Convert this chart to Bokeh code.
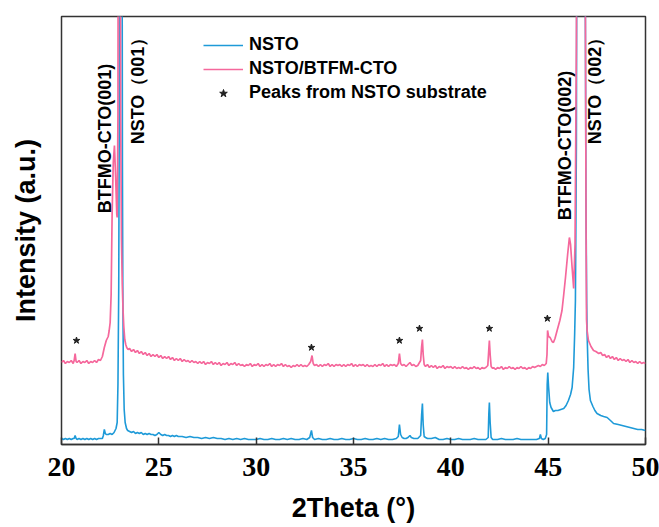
import math
from bokeh.plotting import figure
from bokeh.models import Range1d, FixedTicker, Legend, LegendItem
from bokeh.core.properties import value
from bokeh.embed import file_html
from bokeh.resources import INLINE

# ---------------- data (arbitrary units) ----------------
x_ticks = [20, 25, 30, 35, 40, 45, 50]

film_x = [20.0, 20.1, 20.2, 20.3, 20.4, 20.5, 20.6, 20.65, 20.7, 20.75, 20.8, 20.9, 21.0, 21.1, 21.2, 21.3,
          21.4, 21.5, 21.6, 21.7, 21.8, 21.9, 22.0, 22.1, 22.2, 22.3, 22.4, 22.45, 22.5, 22.55, 22.6, 22.66,
          22.72, 22.78, 22.84, 22.86, 22.9, 22.93, 22.96, 23.0, 23.04, 23.08, 23.12, 23.16, 23.2, 23.25,
          23.3, 23.35, 23.42, 23.5, 23.6, 23.7, 23.8, 23.9, 24.0, 24.1, 24.2, 24.3, 24.4, 24.5, 24.6, 24.7,
          24.8, 24.9, 25.0, 25.1, 25.2, 25.3, 25.4, 25.5, 25.6, 25.7, 25.8, 25.9, 26.0, 26.1, 26.2, 26.3,
          26.4, 26.5, 26.6, 26.7, 26.8, 26.9, 27.0, 27.1, 27.2, 27.3, 27.4, 27.5, 27.6, 27.7, 27.8, 27.9,
          28.0, 28.1, 28.2, 28.3, 28.4, 28.5, 28.6, 28.7, 28.8, 28.9, 29.0, 29.1, 29.2, 29.3, 29.4, 29.5,
          29.6, 29.7, 29.8, 29.9, 30.0, 30.1, 30.2, 30.3, 30.4, 30.5, 30.6, 30.7, 30.8, 30.9, 31.0, 31.1,
          31.2, 31.3, 31.4, 31.5, 31.6, 31.7, 31.8, 31.9, 32.0, 32.1, 32.2, 32.3, 32.4, 32.5, 32.6, 32.7,
          32.8, 32.87, 32.93, 33.0, 33.1, 33.2, 33.3, 33.4, 33.5, 33.6, 33.7, 33.8, 33.9, 34.0, 34.1, 34.2,
          34.3, 34.4, 34.5, 34.6, 34.7, 34.8, 34.9, 35.0, 35.1, 35.2, 35.3, 35.4, 35.5, 35.6, 35.7, 35.8,
          35.9, 36.0, 36.1, 36.2, 36.3, 36.4, 36.5, 36.6, 36.7, 36.8, 36.9, 37.0, 37.1, 37.2, 37.3, 37.36,
          37.42, 37.5, 37.6, 37.7, 37.8, 37.9, 38.0, 38.1, 38.2, 38.3, 38.45, 38.5, 38.54, 38.58, 38.63,
          38.7, 38.8, 38.9, 39.0, 39.1, 39.2, 39.3, 39.4, 39.5, 39.6, 39.7, 39.8, 39.9, 40.0, 40.1, 40.2,
          40.3, 40.4, 40.5, 40.6, 40.7, 40.8, 40.9, 41.0, 41.1, 41.2, 41.3, 41.4, 41.5, 41.6, 41.7, 41.8,
          41.9, 41.95, 41.98, 42.02, 42.07, 42.15, 42.2, 42.3, 42.4, 42.5, 42.6, 42.7, 42.8, 42.9, 43.0,
          43.1, 43.2, 43.3, 43.4, 43.5, 43.6, 43.7, 43.8, 43.9, 44.0, 44.1, 44.2, 44.3, 44.4, 44.5, 44.6,
          44.7, 44.8, 44.9, 44.94, 44.97, 45.02, 45.1, 45.2, 45.27, 45.35, 45.46, 45.6, 45.71, 45.8, 45.89,
          46.0, 46.09, 46.15, 46.23, 46.31, 46.38, 46.45, 46.55, 46.7, 46.85, 46.91, 46.95, 46.97, 47.0,
          47.07, 47.2, 47.33, 47.45, 47.6, 47.7, 47.8, 47.9, 48.0, 48.1, 48.2, 48.3, 48.4, 48.5, 48.6, 48.7,
          48.8, 48.9, 49.0, 49.1, 49.2, 49.3, 49.4, 49.5, 49.6, 49.7, 49.8, 49.9, 50.0]
film_y = [82, 84, 81, 83, 82, 84, 81, 84, 91, 83, 82, 84, 81, 83, 82, 84,
          81, 83, 82, 84, 82, 85, 84, 88, 97, 104, 108, 114, 122, 150, 230, 282,
          299, 268, 230, 227, 330, 800, 1400, 700, 330, 205, 161, 135, 118, 105,
          100, 97, 95, 96, 93, 95, 92, 94, 91, 93, 90, 92, 89, 91, 88, 90,
          88, 90, 87, 89, 86, 88, 86, 88, 85, 87, 84, 86, 84, 86, 83, 85,
          83, 84, 82, 84, 82, 83, 81, 83, 81, 83, 80, 82, 81, 83, 80, 82,
          80, 82, 79, 81, 80, 82, 79, 81, 80, 82, 79, 81, 79, 80, 78, 80,
          79, 81, 78, 80, 79, 81, 78, 80, 78, 80, 79, 81, 78, 80, 78, 80,
          79, 81, 78, 80, 78, 79, 77, 79, 78, 80, 78, 80, 78, 79, 78, 80,
          83, 89, 81, 79, 80, 78, 80, 78, 80, 79, 81, 78, 80, 78, 80, 79,
          80, 78, 80, 78, 80, 79, 81, 78, 80, 78, 80, 79, 80, 78, 80, 78,
          79, 78, 80, 78, 80, 79, 81, 78, 80, 78, 80, 79, 80, 78, 81, 91,
          81, 79, 80, 78, 80, 82, 79, 80, 78, 79, 84, 98, 105, 90, 80,
          78, 80, 77, 79, 77, 79, 76, 78, 77, 79, 76, 78, 77, 78, 76, 78,
          76, 77, 76, 78, 76, 77, 75, 77, 76, 78, 76, 77, 75, 77, 76, 77,
          79, 95, 104, 90, 78, 76, 77, 75, 77, 76, 78, 75, 77, 76, 78,
          76, 77, 75, 77, 76, 78, 76, 77, 75, 77, 76, 78, 77, 78, 79, 78,
          80, 79, 81, 90, 114, 108, 107, 103, 102, 106, 114, 124, 134, 150, 167,
          190, 207, 200, 177, 156, 200, 400, 1000, 1500, 900, 450, 200, 125, 114,
          104, 98, 94, 93, 91, 92, 89, 90, 87, 89, 86, 88, 85, 87, 84, 86,
          84, 85, 83, 85, 82, 84, 82, 83, 81, 83, 81, 82, 81]

nsto_x = [20.0, 20.1, 20.2, 20.3, 20.4, 20.5, 20.6, 20.65, 20.7, 20.75, 20.8, 20.9, 21.0, 21.1, 21.2, 21.3,
          21.4, 21.5, 21.6, 21.7, 21.8, 21.9, 22.0, 22.1, 22.15, 22.2, 22.25, 22.3, 22.4, 22.5, 22.6, 22.7,
          22.8, 22.86, 22.9, 22.94, 22.98, 23.02, 23.06, 23.1, 23.13, 23.15, 23.18, 23.22, 23.27, 23.34,
          23.4, 23.5, 23.6, 23.7, 23.8, 23.9, 24.0, 24.1, 24.2, 24.3, 24.4, 24.5, 24.6, 24.7, 24.8, 24.9,
          25.0, 25.05, 25.1, 25.2, 25.3, 25.4, 25.5, 25.6, 25.7, 25.8, 25.9, 26.0, 26.2, 26.4, 26.6, 26.8,
          27.0, 27.2, 27.4, 27.6, 27.8, 28.0, 28.2, 28.4, 28.6, 28.8, 29.0, 29.2, 29.4, 29.6, 29.8, 30.0,
          30.2, 30.4, 30.6, 30.8, 31.0, 31.2, 31.4, 31.6, 31.8, 32.0, 32.2, 32.4, 32.6, 32.75, 32.84, 32.9,
          33.0, 33.2, 33.4, 33.6, 33.8, 34.0, 34.2, 34.4, 34.6, 34.8, 35.0, 35.2, 35.4, 35.6, 35.8, 36.0,
          36.2, 36.4, 36.6, 36.8, 37.0, 37.2, 37.3, 37.36, 37.42, 37.5, 37.6, 37.7, 37.8, 37.9, 37.97, 38.1,
          38.3, 38.45, 38.5, 38.54, 38.58, 38.63, 38.7, 38.8, 39.0, 39.2, 39.4, 39.6, 39.8, 40.0, 40.2, 40.4,
          40.6, 40.8, 41.0, 41.2, 41.4, 41.6, 41.8, 41.92, 41.95, 41.98, 42.02, 42.07, 42.15, 42.4, 42.6,
          42.8, 43.0, 43.2, 43.4, 43.6, 43.8, 44.0, 44.2, 44.4, 44.55, 44.6, 44.65, 44.75, 44.85, 44.92,
          44.95, 44.98, 45.02, 45.08, 45.15, 45.27, 45.37, 45.5, 45.65, 45.8, 45.92, 46.04, 46.15, 46.23,
          46.31, 46.36, 46.4, 46.45, 46.5, 46.7, 46.85, 46.9, 46.94, 46.98, 47.0, 47.05, 47.1, 47.17, 47.3,
          47.4, 47.51, 47.7, 47.85, 48.03, 48.2, 48.36, 48.6, 48.8, 49.0, 49.2, 49.4, 49.6, 49.8, 50.0]
nsto_y = [6, 5, 6, 5, 6, 5, 6, 6, 9, 6, 5, 6, 5, 6, 5, 6,
          5, 6, 5, 6, 5, 6, 6, 6, 9, 15, 11, 10, 10, 11, 10, 12,
          16, 22, 60, 157, 400, 900, 1500, 700, 280, 157, 70, 35, 22, 16,
          14, 13, 12, 13, 11, 12, 11, 12, 10, 11, 10, 11, 10, 10, 9, 10,
          12, 11, 10, 9, 10, 9, 9, 8, 9, 8, 9, 8, 8, 7, 8, 7,
          7, 6, 7, 6, 7, 6, 6, 5, 6, 5, 6, 5, 6, 5, 5, 5,
          6, 5, 5, 6, 5, 5, 6, 5, 6, 5, 5, 6, 5, 7, 14, 7,
          5, 6, 5, 5, 6, 5, 5, 6, 5, 5, 6, 5, 5, 6, 5, 5,
          6, 5, 6, 5, 5, 6, 8, 20, 10, 7, 6, 6, 7, 9, 7, 6,
          6, 9, 30, 41, 20, 8, 7, 6, 6, 7, 5, 5, 6, 5, 5, 6,
          5, 5, 5, 6, 5, 5, 5, 7, 30, 42, 22, 7, 5, 5, 6,
          5, 5, 5, 6, 5, 5, 5, 5, 5, 6, 10, 6, 5, 6, 10,
          60, 72, 58, 42, 37, 33, 34, 34, 35, 36, 39, 44, 50, 57,
          77, 110, 144, 300, 800, 1500, 900, 500, 250, 140, 111, 75, 55, 44, 38,
          34, 31, 29, 28, 27, 24, 21, 20, 19, 18, 17, 16, 15, 15, 14]

star_x = [20.77, 32.84, 37.36, 38.39, 41.98, 44.96]
star_y = [104, 97, 104, 116, 116, 126]

peak_labels = ["BTFMO-CTO(001)", "NSTO\uff08001\uff09", "BTFMO-CTO(002)", "NSTO\uff08002\uff09"]
peak_label_x = [22.26, 23.92, 45.89, 47.43]
peak_label_y = [306, 358, 299, 358]

series_names = ["NSTO", "NSTO/BTFM-CTO", "Peaks from NSTO substrate"]
x_title = "2Theta (\u00b0)"
y_title = "Intensity (a.u.)"

# ---------------- figure ----------------
BLUE = "#1e9ad8"
PINK = "#f5689c"
SANS = "Liberation Sans"

p = figure(width=659, height=527, output_backend="svg", toolbar_location=None,
           x_range=Range1d(20, 50), y_range=Range1d(0, 428),
           min_border_left=61, min_border_right=14, min_border_top=16, min_border_bottom=83)
p.background_fill_color = "white"
p.border_fill_color = "white"
p.outline_line_color = "#333333"
p.outline_line_width = 1.5
p.xgrid.visible = False
p.ygrid.visible = False

xa = p.xaxis[0]
xa.ticker = FixedTicker(ticks=x_ticks)
xa.major_tick_in = 7
xa.major_tick_out = 0
xa.minor_tick_in = 0
xa.minor_tick_out = 0
xa.major_tick_line_color = "#333333"
xa.major_tick_line_width = 1.5
xa.axis_line_color = "#333333"
xa.axis_line_width = 1.5
xa.major_label_text_font = "Liberation Serif"
xa.major_label_text_font_style = "bold"
xa.major_label_text_font_size = "28px"
xa.major_label_text_color = "black"
xa.major_label_text_line_height = 0.8
xa.major_label_standoff = 13
xa.axis_label = x_title
xa.axis_label_text_font = SANS
xa.axis_label_text_font_style = "bold"
xa.axis_label_text_font_size = "27px"
xa.axis_label_text_color = "black"
xa.axis_label_text_line_height = 0.8
xa.axis_label_standoff = 14

ya = p.yaxis[0]
ya.ticker = FixedTicker(ticks=[])
ya.axis_line_color = None
ya.major_tick_line_color = None
ya.minor_tick_line_color = None
ya.major_label_text_font_size = "0px"
ya.axis_label = y_title
ya.axis_label_text_font = SANS
ya.axis_label_text_font_style = "bold"
ya.axis_label_text_font_size = "27px"
ya.axis_label_text_color = "black"
ya.axis_label_standoff = 21

r_nsto = p.line(nsto_x, nsto_y, line_color=BLUE, line_width=1.6)
r_film = p.line(film_x, film_y, line_color=PINK, line_width=1.7)
r_star = p.scatter(star_x, star_y, marker="star", size=7, fill_color="#222222", line_color="#222222")

p.text(x=peak_label_x, y=peak_label_y, text=peak_labels, angle=math.pi / 2,
       text_align="center", text_baseline="middle",
       text_font=value(SANS), text_font_style="bold", text_font_size="18px", text_color="black")

legend = Legend(items=[LegendItem(label=series_names[0], renderers=[r_nsto]),
                       LegendItem(label=series_names[1], renderers=[r_film]),
                       LegendItem(label=series_names[2], renderers=[r_star])],
                location=(142, 341), orientation="vertical",
                border_line_color=None, background_fill_alpha=0,
                padding=0, margin=0, spacing=3,
                glyph_width=40, glyph_height=20, label_height=20, label_standoff=6,
                label_text_font=SANS, label_text_font_style="bold",
                label_text_font_size="18px", label_text_color="black")
p.add_layout(legend, "center")

open("out.html", "w").write(file_html(p, INLINE))
